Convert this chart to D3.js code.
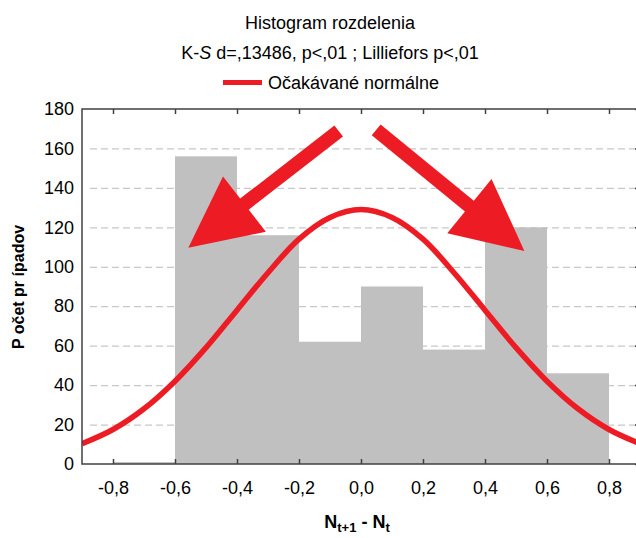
<!DOCTYPE html>
<html>
<head>
<meta charset="utf-8">
<script src="https://cdn.jsdelivr.net/npm/d3@7"></script>
<style>
    body { margin: 0; background: #fff; }
    svg { display: block; font-family: "Liberation Sans", Arial, sans-serif; }
</style>
</head>
<body>
<svg width="636" height="538"></svg>
<script>
// Histogram bins (left edge, bin width 0,2) and counts
const binStarts = [-0.8, -0.6, -0.4, -0.2, 0.0, 0.2, 0.4, 0.6];
const binCounts = [1, 156, 116, 62, 90, 58, 120, 46];
const binWidth = 0.2;

// Expected normal curve, read every 0,1
const curveX = [-0.9, -0.8, -0.7, -0.6, -0.5, -0.4, -0.3, -0.2, -0.1, 0.0, 0.1, 0.2, 0.3, 0.4, 0.5, 0.6, 0.7, 0.8, 0.9];
const curveY = [10.3, 17.5, 28, 42, 59, 78, 97, 114, 125, 129, 125, 114, 97, 78, 59, 42, 28, 17.5, 10.3];

const xTicks = [-0.8, -0.6, -0.4, -0.2, 0.0, 0.2, 0.4, 0.6, 0.8];
const yTicks = [0, 20, 40, 60, 80, 100, 120, 140, 160, 180];

// Two annotation arrows: [tailX, tailY, tipX, tipY] in data units
const arrows = [
    [-0.072, 168.8, -0.557, 109.7],
    [0.049, 169.4, 0.527, 108]
];

const red = '#ed1c24';
const plotL = 82, plotR = 640, plotT = 109, plotB = 464;

const svg = d3.select('svg');

const x = d3.scaleLinear().domain([-0.9, 0.9]).range([plotL, plotR]);
const y = d3.scaleLinear().domain([0, 180]).range([plotB, plotT]);

// Titles
svg.append('text')
    .attr('x', 330).attr('y', 28.5)
    .attr('text-anchor', 'middle').attr('font-size', 18)
    .text('Histogram rozdelenia');

const sub = svg.append('text')
    .attr('x', 330).attr('y', 58.5)
    .attr('text-anchor', 'middle').attr('font-size', 18);
sub.append('tspan').text('K-');
sub.append('tspan').attr('font-style', 'italic').text('S');
sub.append('tspan').text(' d=,13486, p<,01 ; Lilliefors p<,01');

// Legend
svg.append('line')
    .attr('x1', 223).attr('x2', 262)
    .attr('y1', 82.5).attr('y2', 82.5)
    .attr('stroke', red).attr('stroke-width', 5);
svg.append('text')
    .attr('x', 268).attr('y', 88.5)
    .attr('font-size', 18)
    .text('Očakávané normálne');

// Clip for plot area
svg.append('clipPath').attr('id', 'plot')
    .append('rect')
    .attr('x', plotL).attr('y', plotT)
    .attr('width', plotR - plotL).attr('height', plotB - plotT);

// Dashed gridlines
svg.append('g')
    .selectAll('line')
    .data(yTicks.filter(d => d > 0 && d < 180))
    .join('line')
    .attr('x1', plotL + 8).attr('x2', plotR)
    .attr('y1', d => y(d) + 0.5).attr('y2', d => y(d) + 0.5)
    .attr('stroke', '#c8c8c8')
    .attr('stroke-width', 1.3)
    .attr('stroke-dasharray', '7,4');

// Bars
svg.append('g')
    .selectAll('rect')
    .data(binStarts)
    .join('rect')
    .attr('x', d => x(d))
    .attr('width', d => x(d + binWidth) - x(d))
    .attr('y', (d, i) => y(binCounts[i]))
    .attr('height', (d, i) => y(0) - y(binCounts[i]))
    .attr('fill', '#c0c0c0');

// Normal curve
const line = d3.line()
    .x(d => x(d[0]))
    .y(d => y(d[1]))
    .curve(d3.curveCatmullRom);

svg.append('path')
    .datum(curveX.map((v, i) => [v, curveY[i]]))
    .attr('clip-path', 'url(#plot)')
    .attr('d', line)
    .attr('fill', 'none')
    .attr('stroke', red)
    .attr('stroke-width', 5.5);

// Frame
svg.append('rect')
    .attr('x', plotL).attr('y', plotT)
    .attr('width', plotR - plotL).attr('height', plotB - plotT)
    .attr('fill', 'none')
    .attr('stroke', '#404040')
    .attr('stroke-width', 1.5);

const fmt = v => v.toFixed(1).replace('.', ',');

// Bottom axis: inward ticks + labels
const xAxis = svg.append('g')
    .attr('transform', `translate(0,${plotB})`)
    .call(d3.axisBottom(x).tickValues(xTicks).tickSize(-5).tickSizeOuter(0).tickPadding(17).tickFormat(fmt));
xAxis.select('.domain').remove();

// Top axis: inward ticks only
const xTop = svg.append('g')
    .attr('transform', `translate(0,${plotT})`)
    .call(d3.axisTop(x).tickValues(xTicks).tickSize(-5).tickSizeOuter(0).tickFormat(''));
xTop.select('.domain').remove();

// Left axis labels
const yAxis = svg.append('g')
    .attr('transform', `translate(${plotL},0)`)
    .call(d3.axisLeft(y).tickValues(yTicks).tickSize(0).tickPadding(8).tickFormat(d3.format('d')));
yAxis.select('.domain').remove();

// Right axis: inward ticks
const yRight = svg.append('g')
    .attr('transform', `translate(${plotR},0)`)
    .call(d3.axisRight(y).tickValues(yTicks).tickSize(-5).tickSizeOuter(0).tickFormat(''));
yRight.select('.domain').remove();

svg.selectAll('.tick line').attr('stroke', '#404040').attr('stroke-width', 1.5);
svg.selectAll('.tick text')
    .attr('font-family', '"Liberation Sans", Arial, sans-serif')
    .attr('font-size', 18)
    .attr('fill', '#000');

// Axis titles
svg.append('text')
    .attr('transform', 'translate(24,287) rotate(-90)')
    .attr('text-anchor', 'middle')
    .attr('font-size', 16)
    .attr('font-weight', 'bold')
    .text('P očet pr ípadov');

const xt = svg.append('text')
    .attr('x', 357).attr('y', 528)
    .attr('text-anchor', 'middle')
    .attr('font-size', 18)
    .attr('font-weight', 'bold');
xt.append('tspan').text('N');
xt.append('tspan').attr('font-size', 13).attr('dy', 4).text('t+1');
xt.append('tspan').attr('dy', -4).text(' - N');
xt.append('tspan').attr('font-size', 13).attr('dy', 4).text('t');

// Annotation arrows
const shaftW = 14, headLen = 71, headW = 70;

function arrowPath(a) {
    const x0 = x(a[0]), y0 = y(a[1]), x1 = x(a[2]), y1 = y(a[3]);
    const dx = x1 - x0, dy = y1 - y0;
    const len = Math.sqrt(dx * dx + dy * dy);
    const ux = dx / len, uy = dy / len;
    const px = -uy, py = ux;
    const bx = x1 - ux * headLen, by = y1 - uy * headLen;
    const pts = [
        [x0 + px * shaftW / 2, y0 + py * shaftW / 2],
        [bx + px * shaftW / 2, by + py * shaftW / 2],
        [bx + px * headW / 2, by + py * headW / 2],
        [x1, y1],
        [bx - px * headW / 2, by - py * headW / 2],
        [bx - px * shaftW / 2, by - py * shaftW / 2],
        [x0 - px * shaftW / 2, y0 - py * shaftW / 2]
    ];
    return 'M' + pts.map(p => p.join(',')).join('L') + 'Z';
}

svg.append('g')
    .selectAll('path')
    .data(arrows)
    .join('path')
    .attr('d', arrowPath)
    .attr('fill', red);
</script>
</body>
</html>
